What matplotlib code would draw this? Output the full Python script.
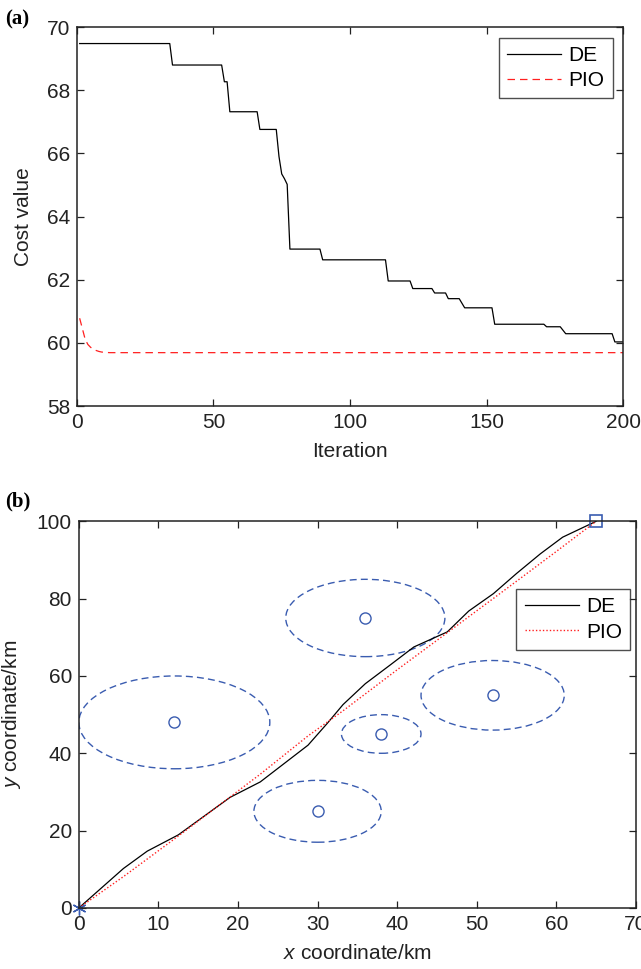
import numpy as np
import matplotlib
matplotlib.use('Agg')
import matplotlib.pyplot as plt
from matplotlib.patches import Circle

plt.rcParams['font.family'] = ['Liberation Sans', 'DejaVu Sans']
plt.rcParams['mathtext.fontset'] = 'custom'
plt.rcParams['mathtext.it'] = 'Liberation Sans:italic'
plt.rcParams['mathtext.rm'] = 'Liberation Sans'

# (a) 收敛曲线
de_iter = [1, 34, 35, 53, 54, 55, 56, 66, 67, 73, 74, 75, 76, 77, 78, 89, 90, 113, 114,
           122, 123, 130, 131, 135, 136, 140, 142, 152, 153, 171, 172, 177, 179, 196, 197, 200]
de_cost = [69.48, 69.48, 68.80, 68.80, 68.27, 68.27, 67.32, 67.32, 66.76, 66.76, 65.90,
           65.35, 65.20, 65.02, 62.97, 62.97, 62.63, 62.63, 61.96, 61.96, 61.72, 61.72,
           61.58, 61.58, 61.40, 61.40, 61.11, 61.11, 60.59, 60.59, 60.51, 60.51, 60.29,
           60.29, 60.03, 60.03]
pio_iter = [1, 2, 3, 4, 5, 6, 7, 8, 9, 10, 12, 200]
pio_cost = [60.78, 60.45, 60.12, 59.95, 59.86, 59.80, 59.76, 59.73, 59.71, 59.70, 59.69, 59.69]

# (b) 路径
de_x = [0, 5.6, 8.6, 12.5, 19.0, 22.8, 28.8, 31.2, 33.2, 36.0, 39.1, 42.1, 46.3, 49.0,
        52.1, 55.0, 58.0, 60.8, 65.0]
de_y = [0, 10.2, 14.7, 18.9, 28.6, 32.6, 42.1, 47.7, 52.6, 58.0, 62.8, 67.5, 71.4, 76.8,
        81.3, 86.5, 91.6, 95.9, 100.0]
pio_x = [0, 5.6, 12.5, 22.8, 28.8, 33.2, 40.0, 46.3, 55.0, 60.0, 65.0]
pio_y = [0, 8.1, 18.6, 34.6, 44.5, 51.0, 61.6, 71.2, 84.5, 92.2, 100.0]
obs_x = [12, 36, 52, 38, 30]
obs_y = [48, 75, 55, 45, 25]
obs_r = [12, 10, 9, 5, 8]
start = (0, 0)
goal = (65, 100)

fs = 15
tc = '#222222'
blue = '#3a5cb0'

fig = plt.figure(figsize=(6.41, 9.69), dpi=100)

ax1 = fig.add_axes([0.120, 0.581, 0.852, 0.391])
ax1.plot(de_iter, de_cost, color='black', lw=0.9, label='DE')
ax1.plot(pio_iter, pio_cost, color='#ff2020', lw=0.9, ls=(0, (6, 4)), label='PIO')
ax1.set_xlim(0, 200)
ax1.set_ylim(58, 70)
ax1.set_xticks([0, 50, 100, 150, 200])
ax1.set_yticks(range(58, 71, 2))
ax1.set_xlabel('Iteration', fontsize=fs, color=tc, labelpad=7)
ax1.set_ylabel('Cost value', fontsize=fs, color=tc, labelpad=10)
leg1 = ax1.legend(loc='upper right', fontsize=fs, fancybox=False, edgecolor=tc,
                  borderaxespad=0.5, handlelength=2.6, handletextpad=0.35,
                  labelspacing=0.3, borderpad=0.4)
leg1.get_frame().set_linewidth(1.0)

ax2 = fig.add_axes([0.123, 0.063, 0.869, 0.399])
for cx, cy, r in zip(obs_x, obs_y, obs_r):
    ax2.add_patch(Circle((cx, cy), r, fill=False, ec=blue, lw=1.0, ls=(0, (5, 3))))
ax2.plot(obs_x, obs_y, 'o', mfc='none', mec=blue, ms=8, mew=1.0, ls='none')
ax2.plot(de_x, de_y, color='black', lw=0.9, label='DE')
ax2.plot(pio_x, pio_y, color='#ff2020', lw=1.0, ls=(0, (1, 1.5)), label='PIO')
ax2.plot(*start, marker=(6, 2, 0), color=blue, ms=10, mew=1.0, clip_on=False)
ax2.plot(*goal, marker='s', mfc='none', mec=blue, ms=9, mew=1.2, clip_on=False)
ax2.set_xlim(0, 70)
ax2.set_ylim(0, 100)
ax2.set_xticks(range(0, 71, 10))
ax2.set_yticks(range(0, 101, 20))
ax2.set_xlabel(r'$x$ coordinate/km', fontsize=fs, color=tc, labelpad=7)
ax2.set_ylabel(r'$y$ coordinate/km', fontsize=fs, color=tc, labelpad=10)
leg2 = ax2.legend(loc='upper right', bbox_to_anchor=(0.99, 0.825), fontsize=fs,
                  fancybox=False, edgecolor=tc, borderaxespad=0, handlelength=2.6,
                  handletextpad=0.35, labelspacing=0.3, borderpad=0.4)
leg2.get_frame().set_linewidth(1.0)

for ax in (ax1, ax2):
    ax.tick_params(direction='in', length=5, width=0.9, labelsize=fs, colors=tc,
                   top=True, right=True, pad=5)
    for s in ax.spines.values():
        s.set_linewidth(1.1)
        s.set_color(tc)

fig.text(0.008, 0.980, '(a)', fontsize=fs, fontweight='bold', family='Liberation Serif',
         va='center', color='black')
fig.text(0.008, 0.482, '(b)', fontsize=fs, fontweight='bold', family='Liberation Serif',
         va='center', color='black')

fig.savefig('out.png', dpi=100)
